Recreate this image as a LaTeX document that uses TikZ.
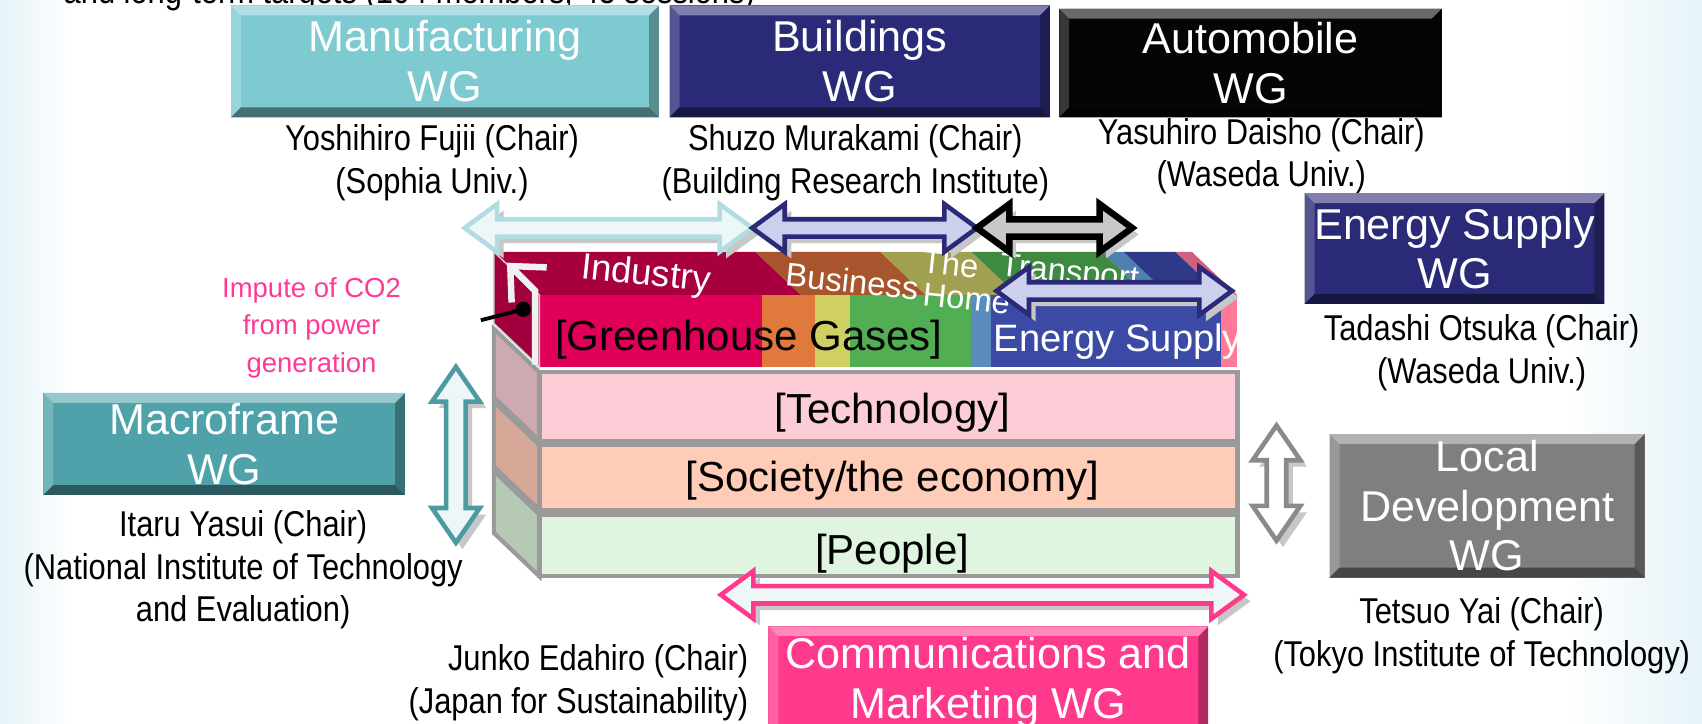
\documentclass[tikz,border=0pt]{standalone}
\usepackage{fontspec}
\setmainfont{Liberation Sans}
\newfontfamily\narrowfont[FakeStretch=0.86]{Liberation Sans}
\usetikzlibrary{arrows.meta}

\definecolor{bgblue}{HTML}{E6F3F8}
\definecolor{manufcol}{HTML}{7DCAD0}
\definecolor{navycol}{HTML}{2B2A78}
\definecolor{autocol}{HTML}{050505}
\definecolor{macrocol}{HTML}{4FA2A9}
\definecolor{localcol}{HTML}{7F7F7F}
\definecolor{commcol}{HTML}{FF3A8C}
\definecolor{imputecol}{HTML}{FF3A96}
\definecolor{bandgray}{HTML}{9A9A9A}
\definecolor{techcol}{HTML}{FCCCD7}
\definecolor{soccol}{HTML}{FFCCB8}
\definecolor{peoplecol}{HTML}{E0F5E0}
\definecolor{techside}{HTML}{CDA9B1}
\definecolor{socside}{HTML}{D5A898}
\definecolor{peopleside}{HTML}{B6C9B6}
\definecolor{ghgside}{HTML}{A0003E}
\definecolor{ghgred}{HTML}{E0005A}
\definecolor{ghgorange}{HTML}{E07A3C}
\definecolor{ghgyellow}{HTML}{CFCF62}
\definecolor{ghggreen}{HTML}{52AE52}
\definecolor{ghgsteel}{HTML}{5A8CC0}
\definecolor{ghgblue}{HTML}{3A4AA5}
\definecolor{ghgpink}{HTML}{FF7A95}
\definecolor{indtop}{HTML}{A8003E}
\definecolor{bustop}{HTML}{A8552E}
\definecolor{hometop}{HTML}{A0A050}
\definecolor{transtop}{HTML}{3E8A40}
\definecolor{steeltop}{HTML}{5080B0}
\definecolor{navytop}{HTML}{2E3A88}
\definecolor{pinktop}{HTML}{D06080}
\definecolor{cyanline}{HTML}{B0DCE2}
\definecolor{paleblue}{HTML}{EEF7F7}
\definecolor{lavender}{HTML}{CDCFEE}
\definecolor{arrowgray}{HTML}{C8C8C8}
\definecolor{tealline}{HTML}{4D9AA2}
\definecolor{grayline}{HTML}{8A8A8A}

\newcommand{\wgfont}{\fontsize{11.3}{13}\selectfont}
\newcommand{\chairfont}{\narrowfont\fontsize{9.4}{11.2}\selectfont}
\newcommand{\bandfont}{\fontsize{11}{13}\selectfont}
\newcommand{\sectorfont}{\fontsize{8.6}{8.6}\selectfont}
\newcommand{\imputefont}{\fontsize{7.2}{9.9}\selectfont}
\newcommand{\bev}{2.6pt}

% double block arrows: x1, x2, y, outline, fill
\newcommand{\harrow}[5]{%
  \fill[arrowshadow, shift={(6,6)}] (#1,#3) -- ++(30,-22) -- ++(0,14) -- ({#2-30},{#3-8}) -- ++(0,-14) -- (#2,#3) -- ++(-30,22) -- ++(0,-14) -- ({#1+30},{#3+8}) -- ++(0,14) -- cycle;
  \draw[blockarrow, draw=#4, fill=#5] (#1,#3) -- ++(30,-22) -- ++(0,14) -- ({#2-30},{#3-8}) -- ++(0,-14) -- (#2,#3) -- ++(-30,22) -- ++(0,-14) -- ({#1+30},{#3+8}) -- ++(0,14) -- cycle;}
% x, y1, y2, outline, fill
\newcommand{\varrow}[5]{%
  \fill[arrowshadow, shift={(6,6)}] (#1,#2) -- ++(-22,32) -- ++(13,0) -- ({#1-9},{#3-32}) -- ++(-13,0) -- (#1,#3) -- ++(22,-32) -- ++(-13,0) -- ({#1+9},{#2+32}) -- ++(13,0) -- cycle;
  \draw[blockarrow, draw=#4, fill=#5] (#1,#2) -- ++(-22,32) -- ++(13,0) -- ({#1-9},{#3-32}) -- ++(-13,0) -- (#1,#3) -- ++(22,-32) -- ++(-13,0) -- ({#1+9},{#2+32}) -- ++(13,0) -- cycle;}

\begin{document}
\begin{tikzpicture}[x=0.01cm, y=-0.01cm,
  wg/.style={fill=#1, text=white, font=\wgfont, align=center, inner sep=0pt,
    path picture={
      \path (path picture bounding box.north west) coordinate (bnw)
            (path picture bounding box.north east) coordinate (bne)
            (path picture bounding box.south west) coordinate (bsw)
            (path picture bounding box.south east) coordinate (bse);
      \fill[#1!80!white] (bnw) -- ([shift={(\bev,-\bev)}]bnw) -- ([shift={(\bev,\bev)}]bsw) -- (bsw) -- cycle;
      \fill[#1!70!black] (bne) -- ([shift={(-\bev,-\bev)}]bne) -- ([shift={(-\bev,\bev)}]bse) -- (bse) -- cycle;
      \fill[#1!60!white] (bnw) -- (bne) -- ([shift={(-\bev,-\bev)}]bne) -- ([shift={(\bev,-\bev)}]bnw) -- cycle;
      \fill[#1!55!black] (bsw) -- (bse) -- ([shift={(-\bev,\bev)}]bse) -- ([shift={(\bev,\bev)}]bsw) -- cycle;
    }},
  chair/.style={font=\chairfont, align=center, inner sep=0pt},
  bandlabel/.style={font=\bandfont, inner sep=0pt},
  sector/.style={text=white, font=\sectorfont, rotate=-6, inner sep=0pt},
  bandline/.style={draw=bandgray, line width=1.1pt},
  blockarrow/.style={line width=1.2pt, line join=miter},
  arrowshadow/.style={fill=black!22}]
\useasboundingbox (0,0) rectangle (1568,667);
\clip (0,0) rectangle (1568,667);
\fill[white] (0,0) rectangle (1568,667);
\shade[left color=bgblue, right color=white] (0,0) rectangle (70,667);
\shade[left color=white, right color=bgblue] (1440,0) rectangle (1568,667);

\node[anchor=base west, font=\chairfont, inner sep=0pt] (remit) at (58,3) {and long-term targets (104 members, 45 sessions)};

% the stack of bands
\foreach \t/\b/\col in {343/406/techside, 410/470/socside, 474/531/peopleside}
  \draw[bandline, fill=\col] (497,\t) -- ++(-42,-40) -- ++(0,{\b-\t}) -- (497,\b) -- cycle;
\draw[bandline, fill=techcol] (497,343) rectangle (1140,406);
\draw[bandline, fill=soccol] (497,410) rectangle (1140,470);
\draw[bandline, fill=peoplecol] (497,474) rectangle (1140,531);
\node[bandlabel] (tech) at (822,380) {[Technology]};
\node[bandlabel] (society) at (822,443) {[Society/the economy]};
\node[bandlabel] (people) at (822,510) {[People]};

% greenhouse gases band
\foreach \xa/\xb/\col in {497/738/indtop, 738/853/bustop, 853/937/hometop, 937/1057/transtop, 1057/1077/steeltop, 1077/1125/navytop, 1125/1140/pinktop}
  \fill[\col] (\xa,272) -- ++(-42,-40) -- ({\xb-42},232) -- (\xb,272) -- cycle;
\foreach \xa/\xb/\col in {497/702/ghgred, 702/751/ghgorange, 751/783/ghgyellow, 783/895/ghggreen, 895/913/ghgsteel, 913/1125/ghgblue, 1125/1140/ghgpink}
  \fill[\col] (\xa,272) rectangle (\xb,338);
\draw[draw=black!20, fill=ghgside] (497,272) -- ++(-42,-40) -- ++(0,66) -- (497,338) -- cycle;
\node[bandlabel] (ghg) at (690,313) {[Greenhouse Gases]};
\node[bandlabel, text=white, font=\fontsize{10}{12}\selectfont] (supply) at (1030,315) {Energy Supply};
\node[sector, font=\fontsize{9.6}{9.6}\selectfont] (industry) at (595,254) {Industry};
\node[sector] (business) at (785,259) {Business};
\node[sector, align=center] (home) at (874,258) {The\\\hspace*{1.2em}Home};
\node[sector] (transport) at (985,253) {Transport};

% imputed CO2 from power generation
\draw[line width=1.7pt, white!88!gray, -{Straight Barb[length=7pt, width=13pt]}] (493,336) -- (493,268) -- (467,242);
\node[font=\imputefont, text=imputecol, align=center, inner sep=0pt] (impute) at (287,302) {Impute of CO2\\from power\\generation};
\coordinate (ptr) at (443,295);
\coordinate (dot) at (482,285);
\draw[line width=1pt] (ptr) -- (dot);
\fill (dot) circle (7);

% scope arrows
\harrow{428}{693}{210}{cyanline}{paleblue}
\harrow{693}{900}{210}{navycol}{lavender}
\harrow{900}{1043}{210}{black, line width=1.7pt}{arrowgray}
\harrow{918}{1135}{268}{navycol}{lavender}
\harrow{664}{1146}{548}{commcol}{paleblue}
\varrow{420}{338}{500}{tealline}{paleblue}
\varrow{1176}{392}{498}{grayline}{white}

% working groups
\node[chair] (fujii) at (398,150) {Yoshihiro Fujii (Chair)\\(Sophia Univ.)};
\node[chair] (murakami) at (788,150) {Shuzo Murakami (Chair)\\(Building Research Institute)};
\node[chair] (daisho) at (1162,144) {Yasuhiro Daisho (Chair)\\(Waseda Univ.)};
\node[chair] (otsuka) at (1365,325) {Tadashi Otsuka (Chair)\\(Waseda Univ.)};
\node[chair] (yasui) at (224,525) {Itaru Yasui (Chair)\\(National Institute of Technology\\and Evaluation)};
\node[chair] (yai) at (1365,586) {Tetsuo Yai (Chair)\\(Tokyo Institute of Technology)};
\node[chair, align=right, anchor=east] (edahiro) at (690,629) {Junko Edahiro (Chair)\\(Japan for Sustainability)};

\node[wg=manufcol, minimum width=3.94cm, minimum height=1.03cm] (manufwg) at (410,56.5) {Manufacturing\\WG};
\node[wg=navycol, minimum width=3.5cm, minimum height=1.03cm] (buildwg) at (792,56.5) {Buildings\\WG};
\node[wg=autocol, minimum width=3.52cm, minimum height=1cm] (autowg) at (1152,58) {Automobile\\WG};
\node[wg=navycol, minimum width=2.76cm, minimum height=1.02cm] (energywg) at (1340,229) {Energy Supply\\WG};
\node[wg=macrocol, minimum width=3.33cm, minimum height=0.94cm] (macrowg) at (206.5,409) {Macroframe\\WG};
\node[wg=localcol, minimum width=2.9cm, minimum height=1.32cm] (localwg) at (1370,466) {Local\\Development\\WG};
\node[wg=commcol, minimum width=4.05cm, minimum height=1.03cm] (commwg) at (910.5,628.5) {Communications and\\Marketing WG};
\end{tikzpicture}
\end{document}
